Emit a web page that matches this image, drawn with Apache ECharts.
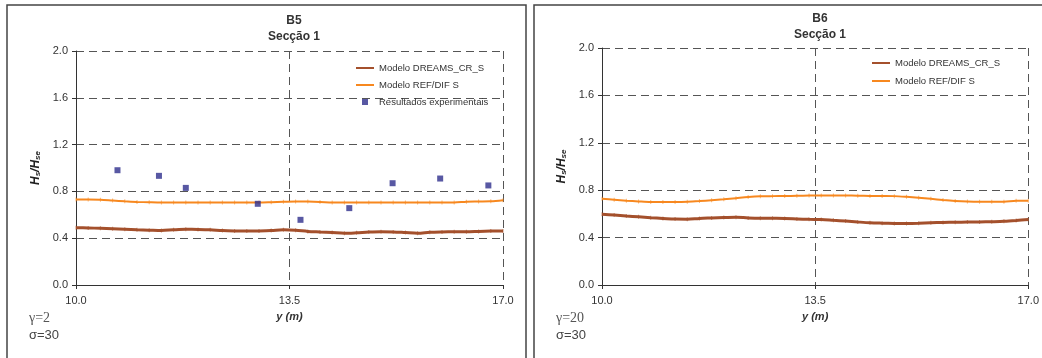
<!DOCTYPE html>
<html>
<head>
<meta charset="UTF-8">
<title>B5 / B6 Secção 1</title>
<script src="https://cdn.jsdelivr.net/npm/echarts@6.0.0/dist/echarts.min.js"></script>
<style type="text/css">
	html, body { margin: 0; padding: 0; background: #fff; }
	#main { width: 1042px; height: 358px; }
</style>
</head>
<body>
<div id="main"></div>
<script type="text/javascript">
	// posições ao longo da secção (m)
	var posY = [10.0, 10.2, 10.4, 10.6, 10.8, 11.0, 11.2, 11.4, 11.6, 11.8, 12.0, 12.2,
		12.4, 12.6, 12.8, 13.0, 13.2, 13.4, 13.6, 13.8, 14.0, 14.2, 14.4, 14.6,
		14.8, 15.0, 15.2, 15.4, 15.6, 15.8, 16.0, 16.2, 16.4, 16.6, 16.8, 17.0];

	// B5
	var b5Dreams = [0.490, 0.488, 0.484, 0.480, 0.476, 0.472, 0.469, 0.466, 0.472, 0.476, 0.475, 0.472,
		0.465, 0.462, 0.461, 0.462, 0.465, 0.472, 0.468, 0.458, 0.453, 0.448, 0.442, 0.446,
		0.452, 0.455, 0.454, 0.448, 0.442, 0.451, 0.454, 0.455, 0.455, 0.458, 0.461, 0.462];
	var b5Refdif = [0.730, 0.730, 0.729, 0.722, 0.715, 0.710, 0.707, 0.705, 0.705, 0.705, 0.705, 0.705,
		0.705, 0.705, 0.705, 0.705, 0.708, 0.712, 0.714, 0.713, 0.710, 0.706, 0.705, 0.705,
		0.705, 0.705, 0.705, 0.705, 0.705, 0.705, 0.705, 0.705, 0.712, 0.714, 0.716, 0.725];
	var b5ExpY = [10.68, 11.36, 11.80, 12.98, 13.68, 14.48, 15.19, 15.97, 16.76];
	var b5ExpH = [0.981, 0.933, 0.830, 0.694, 0.557, 0.657, 0.870, 0.910, 0.851];

	// B6
	var b6Dreams = [0.598, 0.590, 0.582, 0.575, 0.568, 0.562, 0.556, 0.555, 0.562, 0.566, 0.570, 0.572,
		0.566, 0.564, 0.563, 0.562, 0.558, 0.554, 0.552, 0.546, 0.540, 0.532, 0.525, 0.522,
		0.520, 0.519, 0.521, 0.525, 0.528, 0.530, 0.531, 0.532, 0.534, 0.537, 0.544, 0.553];
	var b6Refdif = [0.728, 0.720, 0.712, 0.705, 0.700, 0.700, 0.700, 0.702, 0.708, 0.716, 0.724, 0.733,
		0.742, 0.748, 0.750, 0.751, 0.753, 0.755, 0.756, 0.756, 0.755, 0.754, 0.752, 0.751,
		0.750, 0.744, 0.736, 0.727, 0.717, 0.709, 0.704, 0.702, 0.702, 0.703, 0.710, 0.711];

	var xTicks = [10.0, 13.5, 17.0];

	function pares(xs, ys) {
		var out = [];
		for (var i = 0; i < xs.length; i++) out.push([xs[i], ys[i]]);
		return out;
	}

	var fonte = '"Liberation Sans", Arial, sans-serif';
	var corBrown = '#a4502c', corOrange = '#f7881f', corExp = '#2e2e8c';

	function eixoX(g) {
		return {
			type: 'value', gridIndex: g, min: 10, max: 17,
			name: 'y (m)', nameLocation: 'middle', nameGap: 26,
			nameTextStyle: { fontFamily: fonte, fontSize: 11, fontWeight: 'bold', fontStyle: 'italic', color: '#333' },
			axisLine: { onZero: false, lineStyle: { color: '#333', width: 1 } },
			axisTick: { customValues: xTicks, length: 4, lineStyle: { color: '#333' } },
			axisLabel: { customValues: xTicks, margin: 10, fontFamily: fonte, fontSize: 11, color: '#333',
				formatter: function(v) { return v.toFixed(1); } },
			splitLine: { show: true, lineStyle: { color: '#555', type: [8, 5], width: 1 } }
		};
	}

	function eixoY(g) {
		return {
			type: 'value', gridIndex: g, min: 0, max: 2, interval: 0.4,
			name: '{h|H}{s|s}{h|/H}{s|se}', nameLocation: 'middle', nameGap: 34,
			nameTextStyle: {
				rich: {
					h: { fontFamily: fonte, fontSize: 12, fontWeight: 'bold', fontStyle: 'italic', color: '#222' },
					s: { fontFamily: fonte, fontSize: 8, fontWeight: 'bold', fontStyle: 'italic', color: '#222', verticalAlign: 'bottom', padding: [4, 0, 0, 0] }
				}
			},
			axisLine: { show: true, lineStyle: { color: '#333', width: 1 } },
			axisTick: { show: true, length: 4, lineStyle: { color: '#333' } },
			axisLabel: { margin: 8, fontFamily: fonte, fontSize: 11, color: '#333',
				formatter: function(v) { return v.toFixed(1); } },
			splitLine: { show: true, lineStyle: { color: '#555', type: [8, 5], width: 1 } }
		};
	}

	function serieLinha(nome, cor, largura, dados, g) {
		return {
			name: nome, type: 'line', xAxisIndex: g, yAxisIndex: g,
			data: pares(posY, dados),
			symbol: 'rect', symbolSize: [1, 4], showSymbol: true,
			itemStyle: { color: cor, opacity: 0.6 },
			lineStyle: { color: cor, width: largura },
			smooth: 0.3, animation: false, z: 3
		};
	}

	// itens da legenda: linhas sem marcador, quadrado pequeno para os pontos
	var legLinhas = [
		{ name: 'Modelo DREAMS_CR_S', itemStyle: { opacity: 0 } },
		{ name: 'Modelo REF/DIF S', itemStyle: { opacity: 0 } }
	];
	var legPontos = { name: 'Resultados experimentais', icon: 'path://M0 0H10V10H0Z' };
	var legTexto = { fontFamily: fonte, fontSize: 9.5, color: '#333' };

	var myChart = echarts.init(document.getElementById('main'), null, { renderer: 'canvas' });
	var option = {
		backgroundColor: '#fff',
		animation: false,
		title: [
			{ text: 'B5\nSecção 1', left: 289, top: 8, textAlign: 'center',
				textStyle: { fontFamily: fonte, fontSize: 12, fontWeight: 'bold', color: '#333', lineHeight: 16 } },
			{ text: 'B6\nSecção 1', left: 815, top: 6, textAlign: 'center',
				textStyle: { fontFamily: fonte, fontSize: 12, fontWeight: 'bold', color: '#333', lineHeight: 16 } }
		],
		legend: [
			{ orient: 'vertical', left: 355, top: 63, padding: 0, itemWidth: 18, itemHeight: 6, itemGap: 7,
				symbolKeepAspect: true,
				data: legLinhas.concat([legPontos]), textStyle: legTexto },
			{ orient: 'vertical', left: 871, top: 58, padding: 0, itemWidth: 18, itemHeight: 6, itemGap: 8,
				data: legLinhas, textStyle: legTexto }
		],
		grid: [
			{ left: 76, top: 51, width: 427, height: 234 },
			{ left: 602, top: 48, width: 427, height: 237 }
		],
		xAxis: [eixoX(0), eixoX(1)],
		yAxis: [eixoY(0), eixoY(1)],
		series: [
			serieLinha('Modelo DREAMS_CR_S', corBrown, 3, b5Dreams, 0),
			serieLinha('Modelo REF/DIF S', corOrange, 2, b5Refdif, 0),
			{
				name: 'Resultados experimentais', type: 'scatter', xAxisIndex: 0, yAxisIndex: 0,
				data: pares(b5ExpY, b5ExpH), symbol: 'rect', symbolSize: 6,
				itemStyle: { color: corExp }, z: 4
			},
			serieLinha('Modelo DREAMS_CR_S', corBrown, 3, b6Dreams, 1),
			serieLinha('Modelo REF/DIF S', corOrange, 2, b6Refdif, 1)
		],
		graphic: [
			// molduras dos dois painéis
			{ type: 'rect', shape: { x: 7, y: 5, width: 519, height: 380 }, style: { fill: 'none', stroke: '#444', lineWidth: 1.5 }, silent: true },
			{ type: 'rect', shape: { x: 534, y: 5, width: 530, height: 380 }, style: { fill: 'none', stroke: '#444', lineWidth: 1.5 }, silent: true },
			{ type: 'text', left: 29, top: 311, style: { text: 'γ=2', font: '14px "Liberation Serif", serif', fill: '#555' } },
			{ type: 'text', left: 29, top: 329, style: { text: 'σ=30', font: '13px "Liberation Sans", Arial, sans-serif', fill: '#444' } },
			{ type: 'text', left: 556, top: 311, style: { text: 'γ=20', font: '14px "Liberation Serif", serif', fill: '#555' } },
			{ type: 'text', left: 556, top: 329, style: { text: 'σ=30', font: '13px "Liberation Sans", Arial, sans-serif', fill: '#444' } }
		]
	};
	myChart.setOption(option);
</script>
</body>
</html>
